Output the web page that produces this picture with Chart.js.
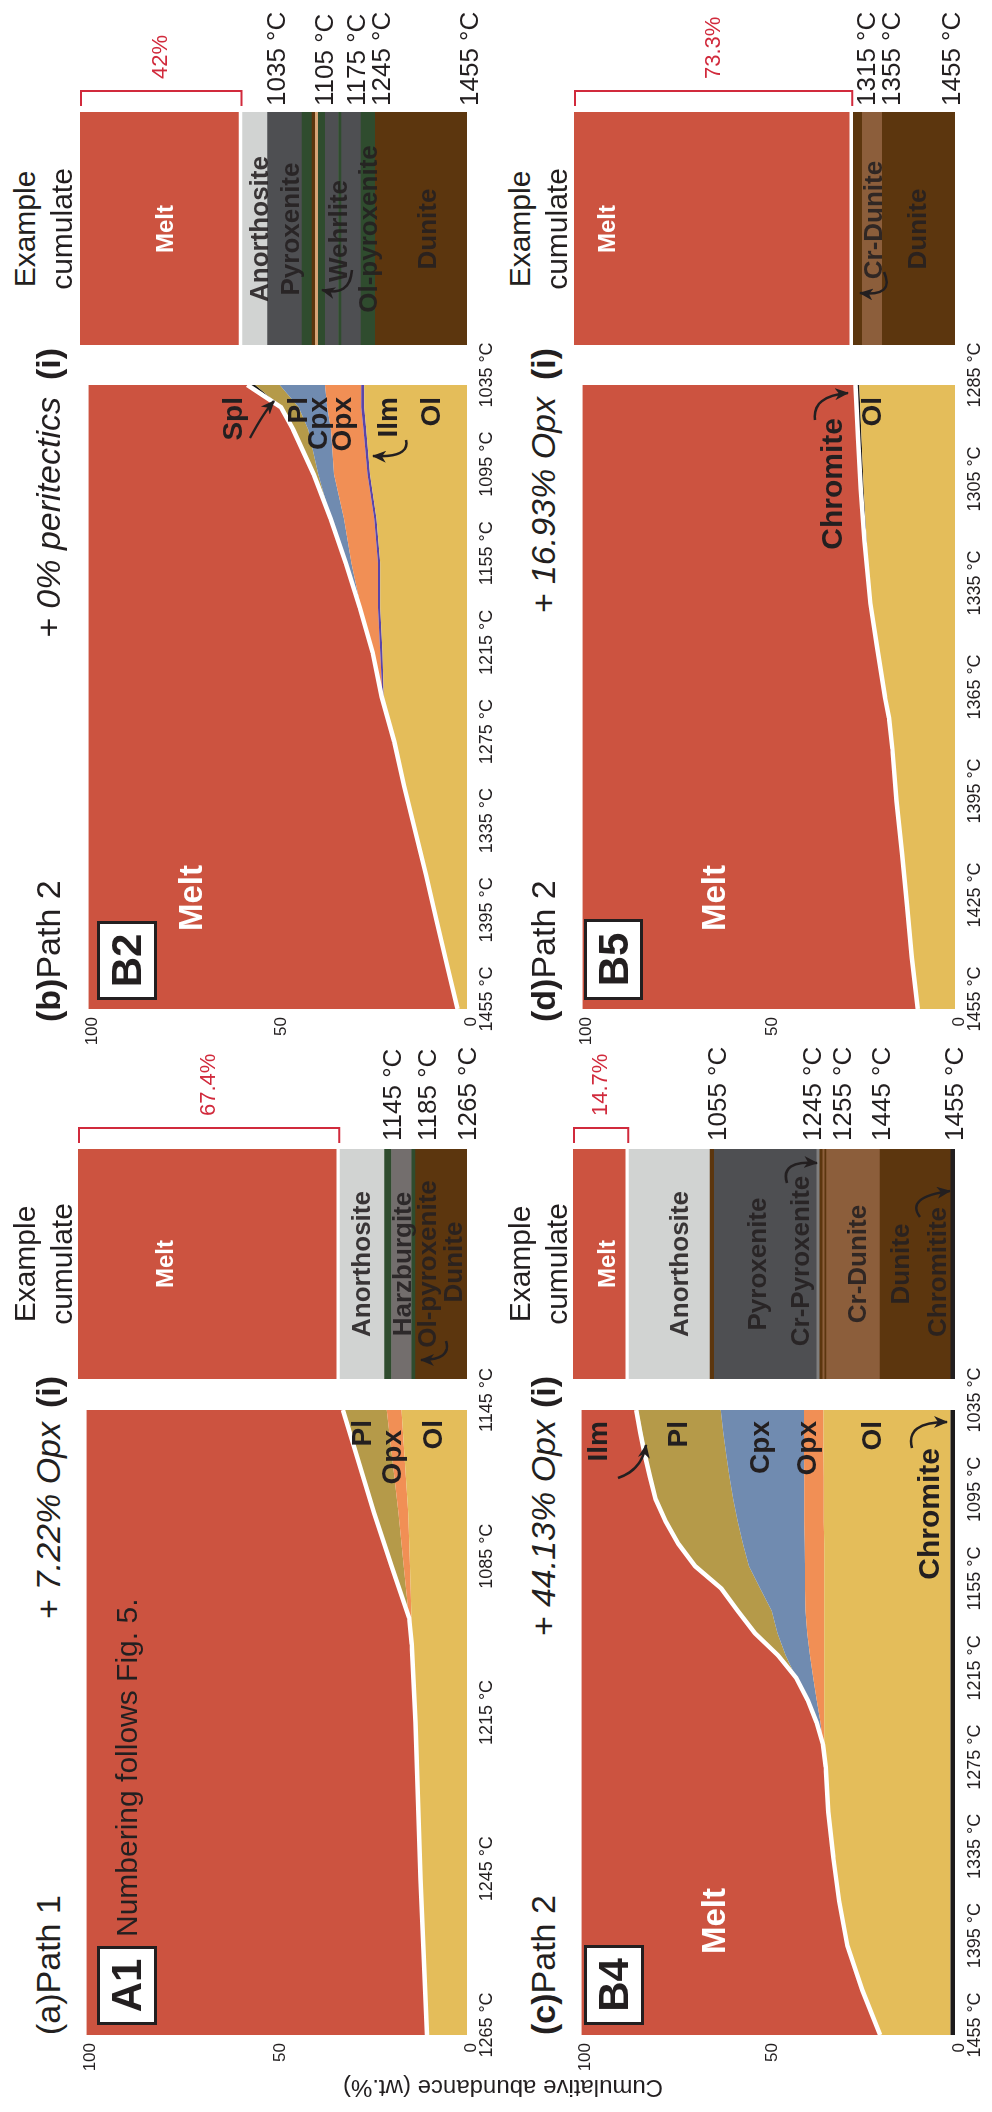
<!DOCTYPE html>
<html>
<head>
<meta charset="utf-8">
<script src="https://cdn.jsdelivr.net/npm/chart.js@4.4.1/dist/chart.umd.min.js"></script>
<style>
  html, body { margin: 0; padding: 0; background: #fff; }
  body { width: 992px; height: 2112px; overflow: hidden; position: relative; }
  #fig {
    position: absolute; left: 0; top: 0; width: 2112px; height: 992px;
    transform-origin: 0 0; transform: translate(0px, 2112px) rotate(-90deg);
    font-family: "Liberation Sans", Arial, sans-serif; color: #231f20; background: #fff;
  }
  #fig canvas { position: absolute; }
  .t { position: absolute; line-height: 1; white-space: nowrap; }
  .box { position: absolute; border: 3px solid #231f20; background: #fff; box-sizing: border-box;
         display: flex; align-items: center; justify-content: center; font-weight: bold; font-size: 42px; }
  svg { position: absolute; left: 0; top: 0; overflow: visible; }
</style>
</head>
<body>
<div id="fig"></div>
<script>
// ---------- (a) Path 1, + 7.22% Opx ----------
const aTicks = ['1265 °C', '1245 °C', '1215 °C', '1085 °C', '1145 °C'];
const aStep  = [0, 1, 2, 2.5, 2.67, 3, 3.34, 4];
const aOl    = [10.5, 12.2, 13.5, 14.3, 14.6, 15.0, 15.4, 17.2];
const aOpx   = [0, 0, 0, 0.2, 0.6, 1.6, 2.6, 3.9];
const aPl    = [0, 0, 0, 0, 0, 3.2, 6.4, 11.5];
const aCumRocks  = ['Dunite', 'Ol-pyroxenite', 'Harzburgite', 'Ol-pyroxenite', 'Anorthosite'];
const aCumValues = [13.2, 1.0, 5.2, 1.8, 11.4];
const aCumMelt   = 67.4;
const aCumTemps  = ['1145 °C', '1185 °C', '1265 °C'];

// ---------- (b) Path 2, + 0% peritectics ----------
const bTemp = [1455, 1425, 1395, 1365, 1335, 1305, 1275, 1245, 1215, 1185, 1155, 1125, 1095, 1065, 1050, 1035];
const bOl   = [2.5, 5.3, 8.1, 10.8, 13.7, 16.6, 19.2, 22.0, 22.3, 22.9, 22.9, 23.9, 25.6, 26.6, 27.1, 27.1];
const bIlm  = [0, 0, 0, 0, 0, 0, 0, 0.3, 0.6, 0.6, 0.6, 0.6, 0.7, 0.7, 0.8, 0.8];
const bOpx  = [0, 0, 0, 0, 0, 0, 0, 0.2, 2.0, 4.5, 7.0, 8.0, 8.8, 8.6, 9.0, 9.6];
const bCpx  = [0, 0, 0, 0, 0, 0, 0, 0, 0, 0.3, 1.5, 3.5, 4.2, 6.0, 7.5, 11.9];
const bPl   = [0, 0, 0, 0, 0, 0, 0, 0, 0, 0, 0, 0, 1.2, 4.0, 4.5, 6.5];
const bSpl  = [0, 0, 0, 0, 0, 0, 0, 0, 0, 0, 0, 0, 0, 0, 0.2, 2.1];
const bCumRocks  = ['Dunite', 'Ol-pyroxenite', 'Pyroxenite', 'Ol-pyroxenite', 'Pyroxenite', 'Ol-pyroxenite',
                    'Wehrlite', 'Dunite', 'Ol-pyroxenite', 'Pyroxenite', 'Anorthosite'];
const bCumValues = [23.7, 3.7, 5.0, 0.8, 3.4, 1.8, 0.8, 0.8, 2.6, 8.9, 6.5];
const bCumMelt   = 42;
const bCumTemps  = ['1035 °C', '1105 °C', '1175 °C', '1245 °C', '1455 °C'];

// ---------- (c) Path 2, + 44.13% Opx ----------
const cTemp = [1455, 1425, 1395, 1365, 1335, 1305, 1275, 1260, 1245, 1230, 1215, 1200,
               1185, 1170, 1155, 1140, 1125, 1110, 1095, 1080, 1065, 1050, 1035];
const cChr  = [1.2, 1.2, 1.2, 1.2, 1.2, 1.2, 1.2, 1.2, 1.2, 1.2, 1.2, 1.2,
               1.2, 1.2, 1.2, 1.2, 1.2, 1.2, 1.2, 1.2, 1.2, 1.2, 1.2];
const cOl   = [18.8, 23.6, 27.6, 29.8, 31.4, 32.7, 33.4, 33.8, 33.8, 33.8, 33.8, 33.8,
               33.8, 33.8, 33.8, 33.8, 33.8, 33.9, 33.9, 33.9, 34.0, 34.0, 34.0];
const cOpx  = [0, 0, 0, 0, 0, 0, 0, 0.3, 1.0, 2.0, 2.9, 3.8,
               4.5, 5.0, 5.1, 5.1, 5.2, 5.2, 5.2, 5.2, 5.2, 5.2, 5.2];
const cCpx  = [0, 0, 0, 0, 0, 0, 0, 0, 1.0, 2.4, 4.6, 6.5,
               8.0, 9.0, 12.0, 15.0, 16.5, 17.8, 19.0, 20.0, 20.8, 21.6, 22.3];
const cPl   = [0, 0, 0, 0, 0, 0, 0, 0, 0, 0, 0, 2.0,
               6.0, 9.1, 10.4, 14.4, 17.3, 19.3, 20.5, 20.9, 21.3, 21.7, 22.1];
const cIlm  = [0, 0, 0, 0, 0, 0, 0, 0, 0, 0, 0, 0,
               0, 0, 0, 0, 0, 0, 0.3, 0.4, 0.5, 0.5, 0.5];
const cCumRocks  = ['Chromitite', 'Dunite', 'Cr-Dunite', 'Dunite', 'Cr-Dunite', 'Dunite',
                    'Cr-Pyroxenite', 'Pyroxenite', 'Dunite', 'Anorthosite'];
const cCumValues = [1.1, 18.5, 14.0, 0.5, 0.5, 0.8, 0.8, 26.8, 1.1, 21.2];
const cCumMelt   = 14.7;
const cCumTemps  = ['1055 °C', '1245 °C', '1255 °C', '1445 °C', '1455 °C'];

// ---------- (d) Path 2, + 16.93% Opx ----------
const dTicks = ['1455 °C', '1425 °C', '1395 °C', '1365 °C', '1335 °C', '1305 °C', '1285 °C'];
const dStep  = [0, 0.5, 1, 1.5, 2, 2.5, 2.8, 3, 3.5, 3.9, 4.5, 5, 5.5, 6];
const dOl    = [10.0, 11.6, 12.9, 14.2, 15.7, 16.8, 17.7, 18.8, 21.0, 22.7, 23.7, 24.5, 25.1, 25.7];
const dChr   = [0, 0, 0, 0, 0, 0, 0, 0, 0, 0, 0.6, 0.8, 0.9, 1.0];
const dCumRocks  = ['Dunite', 'Cr-Dunite', 'Dunite'];
const dCumValues = [19.1, 5.2, 2.4];
const dCumMelt   = 73.3;
const dCumTemps  = ['1315 °C', '1355 °C', '1455 °C'];

// ---------- colours ----------
const phaseColor = {
  Melt: '#cc5340', Ol: '#e4bd5a', Opx: '#f18f55', Cpx: '#708bb0', Pl: '#b59a49',
  Ilm: '#5b45a8', Spl: '#151515', Chr: '#1c1a1b'
};
const rockColor = {
  Melt: '#cc5340', Anorthosite: '#d1d3d2', Pyroxenite: '#4e4f52', Harzburgite: '#736e6d',
  'Ol-pyroxenite': '#2f4c2e', Dunite: '#5c360e', 'Cr-Dunite': '#8c5e3b', Wehrlite: '#d7a678',
  'Cr-Pyroxenite': '#7f7f7f', Chromitite: '#231f20'
};

// ---------- helpers ----------
const FONT = '"Liberation Sans", Arial, sans-serif';
Chart.defaults.font.family = FONT;
Chart.defaults.color = '#231f20';
const fig = document.getElementById('fig');

function makeCanvas(x, y, w, h) {
  const c = document.createElement('canvas');
  c.width = w; c.height = h;
  c.style.left = x + 'px'; c.style.top = y + 'px';
  c.style.width = w + 'px'; c.style.height = h + 'px';
  fig.appendChild(c);
  return c;
}

function meltOf(layers) {
  return layers[0].values.map((_, k) => 100 - layers.reduce((s, L) => s + L.values[k], 0));
}

// stacked area chart; the top crystal layer carries the white melt boundary
function areaPanel(box, xScale, xs, layers) {
  const padL = 60, padR = 55, padT = 10, padB = 43;
  const w = box.r - box.l + padL + padR, h = box.b - box.t + padT + padB;
  const cv = makeCanvas(box.l - padL, box.t - padT, w, h);
  const all = layers.concat([{ name: 'Melt', values: meltOf(layers), color: phaseColor.Melt }]);
  const datasets = all.map((L, i) => ({
    label: L.name,
    data: xs.map((x, k) => ({ x: x, y: L.values[k] })),
    backgroundColor: L.color,
    borderColor: L.edge || L.color,
    borderWidth: L.edge ? 4.5 : 0,
    fill: i === 0 ? 'origin' : '-1',
    pointRadius: 0, pointHoverRadius: 0, tension: 0
  }));
  const xOpts = Object.assign({
    type: 'linear',
    grid: { display: false, drawTicks: false },
    border: { display: false },
    afterFit: s => { s.height = padB; }
  }, xScale);
  xOpts.ticks = Object.assign({ autoSkip: false, maxRotation: 0, minRotation: 0, padding: 9,
                                labelOffset: 10, font: { size: 18 } }, xScale.ticks);
  return new Chart(cv, {
    type: 'line',
    data: { datasets },
    options: {
      responsive: false, animation: false, devicePixelRatio: 1, events: [],
      layout: { padding: { left: 0, right: padR, top: padT, bottom: 0 } },
      plugins: {
        legend: { display: false }, tooltip: { enabled: false },
        filler: { drawTime: 'beforeDatasetsDraw', propagate: false }
      },
      scales: {
        x: xOpts,
        y: {
          type: 'linear', stacked: true, min: 0, max: 100,
          grid: { display: false, drawTicks: false }, border: { display: false },
          ticks: { stepSize: 50, padding: 8, labelOffset: 4, font: { size: 17 } },
          afterFit: s => { s.width = padL; }
        }
      }
    }
  });
}

// red bracket with the melt fraction beside the cumulate column
const bracketPlugin = {
  id: 'bracket',
  afterDraw(chart, args, opts) {
    const { ctx, chartArea: a, scales: { y } } = chart;
    const top = y.getPixelForValue(100) + 1, bot = y.getPixelForValue(100 - opts.melt) - 1;
    const xl = a.right + 6, xv = a.right + 21;
    ctx.save();
    ctx.strokeStyle = '#d12a3c'; ctx.lineWidth = 2;
    ctx.beginPath();
    ctx.moveTo(xl, top); ctx.lineTo(xv, top); ctx.lineTo(xv, bot); ctx.lineTo(xl, bot);
    ctx.stroke();
    ctx.fillStyle = '#d12a3c';
    ctx.font = '22px ' + FONT;
    ctx.textBaseline = 'middle';
    ctx.fillText(opts.melt + '%', a.right + 33, (top + bot) / 2);
    ctx.restore();
  }
};

function cumulatePanel(box, rocks, values, melt) {
  const padT = 20, padB = 20, padR = 150;
  const cv = makeCanvas(box.l, box.t - padT, box.r - box.l + padR, box.b - box.t + padT + padB);
  const ds = rocks.map((r, i) => ({
    label: r, data: [values[i]], backgroundColor: rockColor[r], borderWidth: 0,
    stack: 'c', barPercentage: 1, categoryPercentage: 1
  }));
  ds.push({
    label: 'Melt', data: [melt], backgroundColor: rockColor.Melt, borderColor: '#ffffff',
    borderWidth: { top: 0, right: 0, bottom: 4, left: 0 }, borderSkipped: false,
    stack: 'c', barPercentage: 1, categoryPercentage: 1
  });
  return new Chart(cv, {
    type: 'bar',
    data: { labels: [''], datasets: ds },
    options: {
      responsive: false, animation: false, devicePixelRatio: 1, events: [],
      layout: { padding: { top: padT, bottom: padB, left: 0, right: padR } },
      plugins: { legend: { display: false }, tooltip: { enabled: false }, bracket: { melt: melt } },
      scales: {
        x: { stacked: true, display: false },
        y: { stacked: true, display: false, min: 0, max: 100 }
      }
    },
    plugins: [bracketPlugin]
  });
}

function T(html, x, base, size, o) {
  o = o || {};
  const d = document.createElement('div');
  d.className = 't';
  d.innerHTML = html;
  d.style.fontSize = size + 'px';
  d.style.left = x + 'px';
  d.style.top = (base - 0.8465 * size) + 'px';
  if (o.bold) d.style.fontWeight = 'bold';
  if (o.italic) d.style.fontStyle = 'italic';
  if (o.color) d.style.color = o.color;
  if (o.align === 'c') d.style.transform = 'translateX(-50%)';
  if (o.align === 'r') d.style.transform = 'translateX(-100%)';
  fig.appendChild(d);
  return d;
}
function Box(label, x, y, w, h) {
  const d = document.createElement('div');
  d.className = 'box';
  d.textContent = label;
  Object.assign(d.style, { left: x + 'px', top: y + 'px', width: w + 'px', height: h + 'px' });
  fig.appendChild(d);
}

// ---------- charts ----------
const plotA = { l: 77, r: 702, t: 78, b: 467 };
const plotB = { l: 1103, r: 1727, t: 80, b: 467 };
const plotC = { l: 77, r: 702, t: 573, b: 955 };
const plotD = { l: 1103, r: 1727, t: 574, b: 955 };

areaPanel(plotA, { min: 0, max: 4, ticks: { stepSize: 1, callback: v => aTicks[v] } }, aStep, [
  { name: 'Ol', values: aOl, color: phaseColor.Ol },
  { name: 'Opx', values: aOpx, color: phaseColor.Opx },
  { name: 'Pl', values: aPl, color: phaseColor.Pl, edge: '#ffffff' }
]);
const tempAxis = { min: 1035, max: 1455, reverse: true, ticks: { stepSize: 60, callback: v => v + ' °C' } };
areaPanel(plotB, tempAxis, bTemp, [
  { name: 'Ol', values: bOl, color: phaseColor.Ol },
  { name: 'Ilm', values: bIlm, color: phaseColor.Ilm },
  { name: 'Opx', values: bOpx, color: phaseColor.Opx },
  { name: 'Cpx', values: bCpx, color: phaseColor.Cpx },
  { name: 'Pl', values: bPl, color: phaseColor.Pl },
  { name: 'Spl', values: bSpl, color: phaseColor.Spl, edge: '#ffffff' }
]);
areaPanel(plotC, tempAxis, cTemp, [
  { name: 'Chromite', values: cChr, color: phaseColor.Chr },
  { name: 'Ol', values: cOl, color: phaseColor.Ol },
  { name: 'Opx', values: cOpx, color: phaseColor.Opx },
  { name: 'Cpx', values: cCpx, color: phaseColor.Cpx },
  { name: 'Pl', values: cPl, color: phaseColor.Pl },
  { name: 'Ilm', values: cIlm, color: phaseColor.Ilm, edge: '#ffffff' }
]);
areaPanel(plotD, { min: 0, max: 6, ticks: { stepSize: 1, callback: v => dTicks[v] } }, dStep, [
  { name: 'Ol', values: dOl, color: phaseColor.Ol },
  { name: 'Chromite', values: dChr, color: phaseColor.Chr, edge: '#ffffff' }
]);

const cumA = { l: 733, r: 963, t: 78, b: 467 };
const cumB = { l: 1767, r: 2000, t: 80, b: 467 };
const cumC = { l: 733, r: 963, t: 573, b: 955 };
const cumD = { l: 1767, r: 2000, t: 574, b: 955 };
cumulatePanel(cumA, aCumRocks, aCumValues, aCumMelt);
cumulatePanel(cumB, bCumRocks, bCumValues, bCumMelt);
cumulatePanel(cumC, cCumRocks, cCumValues, cCumMelt);
cumulatePanel(cumD, dCumRocks, dCumValues, dCumMelt);

// ---------- text ----------
const dark = 'rgba(35,31,32,0.88)';
// panel headings
T('(a)Path 1', 77, 60, 34);
T('<b>(b)</b>Path 2', 1090, 60, 34);
T('<b>(c)</b>Path 2', 77, 555, 34);
T('<b>(d)</b>Path 2', 1090, 555, 34);
T('+ 7.22% Opx', 690, 60, 34, { italic: true, align: 'r' });
T('+ 0% peritectics', 1715, 60, 34, { italic: true, align: 'r' });
T('+ 44.13% Opx', 692, 555, 34, { italic: true, align: 'r' });
T('+ 16.93% Opx', 1715, 555, 34, { italic: true, align: 'r' });
[[704, 60], [1732, 60], [704, 555], [1732, 555]].forEach(p => T('(i)', p[0], p[1], 34, { bold: true }));
[[848, 0], [1883, 0], [848, 495], [1883, 495]].forEach(p => {
  T('Example', p[0], 35 + p[1], 30, { align: 'c' });
  T('cumulate', p[0], 72 + p[1], 30, { align: 'c' });
});
Box('A1', 87, 97, 79, 60);
Box('B2', 1112, 97, 79, 60);
Box('B4', 87, 584, 80, 60);
Box('B5', 1112, 584, 81, 59);
T('Numbering follows Fig. 5.', 175, 137, 30);

// melt labels inside the area charts
T('Melt', 1181, 202, 33, { bold: true, color: '#fff' });
T('Melt', 158, 725, 33, { bold: true, color: '#fff' });
T('Melt', 1181, 725, 33, { bold: true, color: '#fff' });

// phase labels
const ph = { bold: true, align: 'r' };
T('Pl', 692, 372, 28, ph); T('Opx', 682, 402, 28, ph); T('Ol', 692, 443, 28, ph);
T('Spl', 1715, 243, 28, ph); T('Pl', 1715, 308, 28, ph); T('Cpx', 1715, 328, 28, ph);
T('Opx', 1715, 352, 28, ph); T('Ilm', 1715, 398, 28, ph); T('Ol', 1715, 441, 28, ph);
T('Ilm', 691, 608, 28, ph); T('Pl', 691, 688, 28, ph); T('Cpx', 691, 770, 28, ph);
T('Opx', 691, 817, 28, ph); T('Ol', 691, 882, 28, ph); T('Chromite', 664, 939, 30, ph);
T('Ol', 1715, 882, 28, ph); T('Chromite', 1694, 842, 30, ph);

// cumulate column labels
const ck = { bold: true, align: 'c', color: dark };
const mk = { bold: true, align: 'c', color: '#fff' };
T('Melt', 848, 173, 24, mk); T('Melt', 1883, 173, 24, mk);
T('Melt', 848, 615, 24, mk); T('Melt', 1883, 615, 24, mk);
T('Anorthosite', 848, 370, 26, ck); T('Harzburgite', 848, 411, 26, ck);
T('Ol-pyroxenite', 848, 436, 26, ck); T('Dunite', 850, 462, 26, ck);
T('Anorthosite', 1883, 268, 26, ck); T('Pyroxenite', 1883, 299, 26, ck);
T('Wehrlite', 1881, 347, 26, ck); T('Ol-pyroxenite', 1883, 377, 26, ck); T('Dunite', 1883, 436, 26, ck);
T('Anorthosite', 848, 688, 26, ck); T('Pyroxenite', 848, 766, 26, ck);
T('Cr-Pyroxenite', 851, 809, 26, ck); T('Cr-Dunite', 848, 866, 26, ck);
T('Dunite', 848, 909, 26, ck); T('Chromitite', 840, 946, 26, ck);
T('Cr-Dunite', 1892, 882, 26, ck); T('Dunite', 1883, 926, 26, ck);

// cumulate temperatures
[401, 436, 476].forEach((b, i) => T(aCumTemps[i], 971, b, 26));
[285, 333, 365, 390, 478].forEach((b, i) => T(bCumTemps[i], 2006, b, 26));
[726, 821, 851, 890, 963].forEach((b, i) => T(cCumTemps[i], 971, b, 26));
[875, 900, 960].forEach((b, i) => T(dCumTemps[i], 2006, b, 26));

// shared y-axis title
const yt = T('Cumulative abundance (wt.%)', 24, 503, 24);
yt.style.top = '503px';
yt.style.transform = 'translate(-50%, -50%) rotate(-90deg)';

// ---------- arrows ----------
const svgNS = 'http://www.w3.org/2000/svg';
const svg = document.createElementNS(svgNS, 'svg');
svg.setAttribute('width', '2112'); svg.setAttribute('height', '992');
svg.innerHTML = '<defs><marker id="ah" viewBox="0 0 14 12" refX="13" refY="6" markerWidth="14" markerHeight="12" ' +
  'markerUnits="userSpaceOnUse" orient="auto"><path d="M0,0 L14,6 L0,12 L4,6 z" fill="#231f20"/></marker></defs>';
[
  'M 771 446 Q 752 452 752 421',
  'M 1674 250 Q 1700 264 1711 274',
  'M 1672 406 Q 1654 410 1656 373',
  'M 1842 352 Q 1815 350 1822 322',
  'M 634 618 Q 642 642 667 646',
  'M 664 912 Q 690 905 690 947',
  'M 929 787 Q 952 780 949 817',
  'M 895 920 Q 915 905 921 950',
  'M 1692 815 Q 1716 812 1719 848',
  'M 1840 884 Q 1815 895 1819 860'
].forEach(d => {
  const p = document.createElementNS(svgNS, 'path');
  p.setAttribute('d', d);
  p.setAttribute('fill', 'none');
  p.setAttribute('stroke', '#231f20');
  p.setAttribute('stroke-width', '2.5');
  p.setAttribute('marker-end', 'url(#ah)');
  svg.appendChild(p);
});
fig.appendChild(svg);
</script>
</body>
</html>
